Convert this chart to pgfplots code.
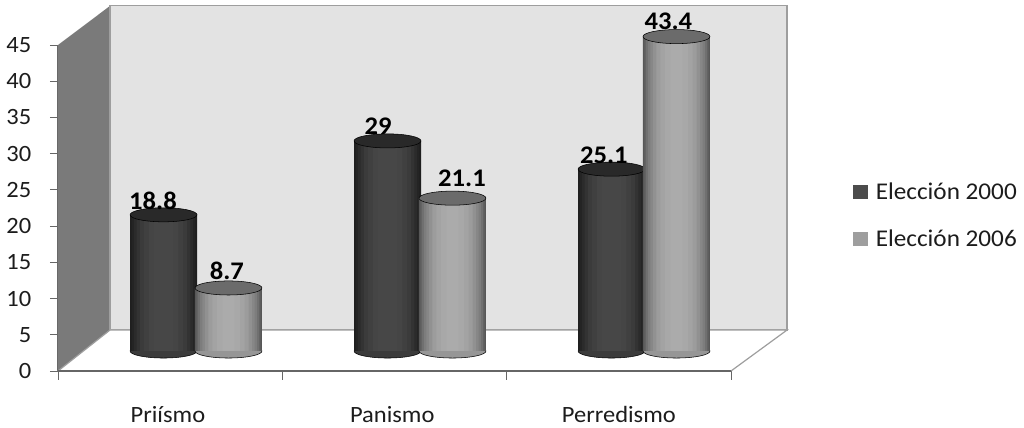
\documentclass[border=0pt]{standalone}
\usepackage{pgfplots}
\usepackage{pgfplotstable}
\usepackage{fontspec}
\setmainfont[FakeStretch=1.05]{Carlito}
\pgfplotsset{compat=1.18}
\definecolor{txt}{HTML}{1C1C1C}
\pgfplotstableread{
x y b
-0.145 18.8 0
0.855 29 0
1.855 25.1 0
}\seriesA
\pgfplotstableread{
x y b
0.145 8.7 0
1.145 21.1 0
2.145 43.4 0
}\seriesB
\pgfplotstableread{
x y t
-0.192 20.78 18.8
0.8125 31.06 29
1.821 26.99 25.1
0.138 11.04 8.7
1.1875 23.88 21.1
2.109 45.49 43.4
}\labelsT
% base ellipse of a cylinder, narrowed by #2
\newcommand\cylbase[3]{%
  \addplot[forget plot, only marks, mark=*, mark size=25.1pt,
    mark options={xscale=#2, yscale=0.21, draw=none, fill=black!#3}]
    table[x=x,y=b] {#1};
}
% body of a cylinder, narrowed by #2
\newcommand\cylbody[3]{%
  \addplot[forget plot, ybar, bar shift=0pt, bar width=#2*50.25pt, draw=none, fill=black!#3]
    table[x=x,y=y] {#1};
}
\pgfplotsset{baraxis/.style={
  at={(63pt,57.75pt)}, anchor=south west, scale only axis,
  width=504pt, height=244.5pt,
  xmin=-0.5, xmax=2.5, ymin=0, ymax=45, clip=false,
  hide axis}}
\begin{document}
\begin{tikzpicture}
\useasboundingbox (0,0) rectangle (768pt,321pt);
% frame: walls, floor, axes
\begin{axis}[
  at={(43.5pt,42.75pt)}, anchor=south west, scale only axis,
  width=504.75pt, height=244.5pt,
  xmin=0, xmax=3, ymin=0, ymax=45, clip=false,
  axis x line=bottom, axis y line=left,
  axis line style={-, draw=black!60, line width=1.1pt},
  tick align=outside,
  major tick length=6pt, minor tick length=6.5pt,
  ytick={0,5,...,45},
  xtick={0.49,1.49,2.5}, xticklabels={Priísmo,Panismo,Perredismo},
  minor xtick={0,1,2,3},
  major x tick style={draw=none},
  minor x tick style={draw=black!60, line width=0.7pt},
  y tick style={draw=black!60, line width=0.7pt},
  /pgf/number format/assume math mode=true,
  tick label style={font=\fontsize{17.5}{20}\selectfont, text=txt},
  y tick label style={xshift=-10.5pt},
  x tick label style={yshift=-17pt, text height=12pt, text depth=3pt},
]
\addplot[draw=none, fill=black!52] coordinates {(0,0) (0,45) (0.232,50.4) (0.232,5.66)} -- cycle;
\addplot[fill=black!11, draw=black!38, line width=0.9pt] coordinates {(0.232,5.66) (0.232,50.4) (3.25,50.4) (3.25,5.66)} -- cycle;
\addplot[fill=white, draw=black!38, line width=0.9pt] coordinates {(0,0) (0.232,5.66) (3.25,5.66) (3,0)};
\addplot[draw=black!60, line width=1.1pt] coordinates {(0,0) (3,0)};
\end{axis}
% 2000: base
\begin{axis}[baraxis]
\cylbase{\seriesA}{1}{77}
\end{axis}
% 2000: body and top
\begin{axis}[baraxis]
\cylbody{\seriesA}{1}{88}
\cylbody{\seriesA}{0.95}{86}
\cylbody{\seriesA}{0.88}{83}
\cylbody{\seriesA}{0.8}{80}
\cylbody{\seriesA}{0.7}{77}
\cylbody{\seriesA}{0.58}{75}
\cylbody{\seriesA}{0.44}{73}
\cylbody{\seriesA}{0.28}{72}
\addplot[forget plot, only marks, mark=*, mark size=25.1pt,
  mark options={yscale=0.21, draw=none, fill=black!84}]
  table[x=x,y=y] {\seriesA};
\end{axis}
% 2006: base
\begin{axis}[baraxis]
\cylbase{\seriesB}{1}{41}
\end{axis}
% 2006: body, top, labels and legend
\begin{axis}[baraxis,
  legend style={draw=none, fill=none, at={(1.144,0.415)}, anchor=west,
    font=\fontsize{18}{20}\selectfont, text=txt,
    row sep=21pt, inner sep=0pt, outer sep=0pt,
    nodes={inner sep=0pt}},
  legend cell align=left,
  legend image code/.code={\path[#1] (0pt,-5pt) rectangle (11.25pt,5.5pt);},
]
\addlegendimage{fill=black!70, draw=none}
\addlegendentry{\hspace{6pt}Elección 2000}
\addlegendimage{fill=black!38, draw=none}
\addlegendentry{\hspace{6pt}Elección 2006}
\cylbody{\seriesB}{1}{66}
\cylbody{\seriesB}{0.96}{61}
\cylbody{\seriesB}{0.91}{56}
\cylbody{\seriesB}{0.85}{51}
\cylbody{\seriesB}{0.78}{47}
\cylbody{\seriesB}{0.7}{43}
\cylbody{\seriesB}{0.6}{39}
\cylbody{\seriesB}{0.48}{36}
\cylbody{\seriesB}{0.34}{34}
\cylbody{\seriesB}{0.18}{33}
\addplot[forget plot, only marks, mark=*, mark size=25.1pt,
  mark options={yscale=0.21, draw=none, fill=black!58}]
  table[x=x,y=y] {\seriesB};
\addplot[forget plot, only marks, mark size=0pt, draw=none,
  point meta=explicit symbolic,
  nodes near coords,
  nodes near coords align={center},
  every node near coord/.append style={font=\fontsize{19}{20}\selectfont\bfseries, text=black, inner sep=0pt}]
  table[x=x,y=y,meta=t] {\labelsT};
\end{axis}
\end{tikzpicture}
\end{document}
